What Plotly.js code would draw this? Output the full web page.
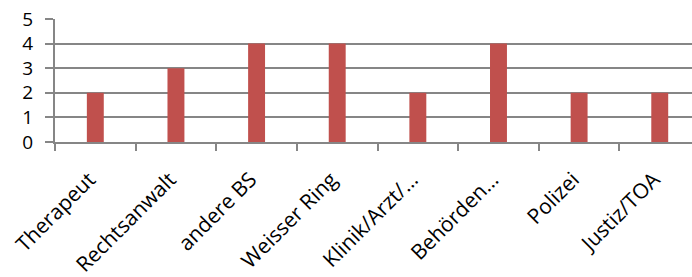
<!DOCTYPE html>
<html><head><meta charset="utf-8">
<script src="https://cdn.plot.ly/plotly-3.0.1.min.js"></script>
<style>html,body{margin:0;padding:0;overflow:hidden;background:#fff}</style>
</head><body><div id="chart" style="width:692px;height:277px"></div>
<script>
const categories = ["Therapeut","Rechtsanwalt","andere BS","Weisser Ring","Klinik/Arzt/…","Behörden…","Polizei","Justiz/TOA"];
const values = [2,3,4,4,2,4,2,2];
const yTicks = [0,1,2,3,4,5];

Plotly.newPlot('chart', [{
  type: 'bar', x: categories, y: values,
  marker: {color: '#C0504D'}, hoverinfo: 'none'
}], {
  width: 692, height: 277,
  margin: {l: 55, r: 0, t: 19, b: 135},
  paper_bgcolor: '#fff', plot_bgcolor: '#fff',
  bargap: 0.79,
  font: {family: 'Open Sans, sans-serif', color: '#000'},
  xaxis: {
    range: [-0.5, 7.4], type: 'category',
    tickangle: -45, tickson: 'boundaries', ticks: 'outside', ticklen: 7, tickcolor: '#868686', tickwidth: 2,
    showgrid: false, showline: true, linecolor: '#868686', linewidth: 2,
    tickfont: {size: 21}, zeroline: false, ticklabelposition: 'outside', ticklabelstandoff: 15, ticklabelshift: -6
  },
  yaxis: {
    range: [0, 5], tickvals: yTicks, ticks: 'outside', ticklen: 8, tickcolor: '#868686', tickwidth: 2,
    showgrid: true, gridcolor: '#868686', gridwidth: 2,
    showline: true, linecolor: '#868686', linewidth: 2, zeroline: false,
    tickfont: {size: 19}, ticklabelstandoff: 8
  },
  showlegend: false
}, {staticPlot: true, displayModeBar: false});
</script></body></html>
